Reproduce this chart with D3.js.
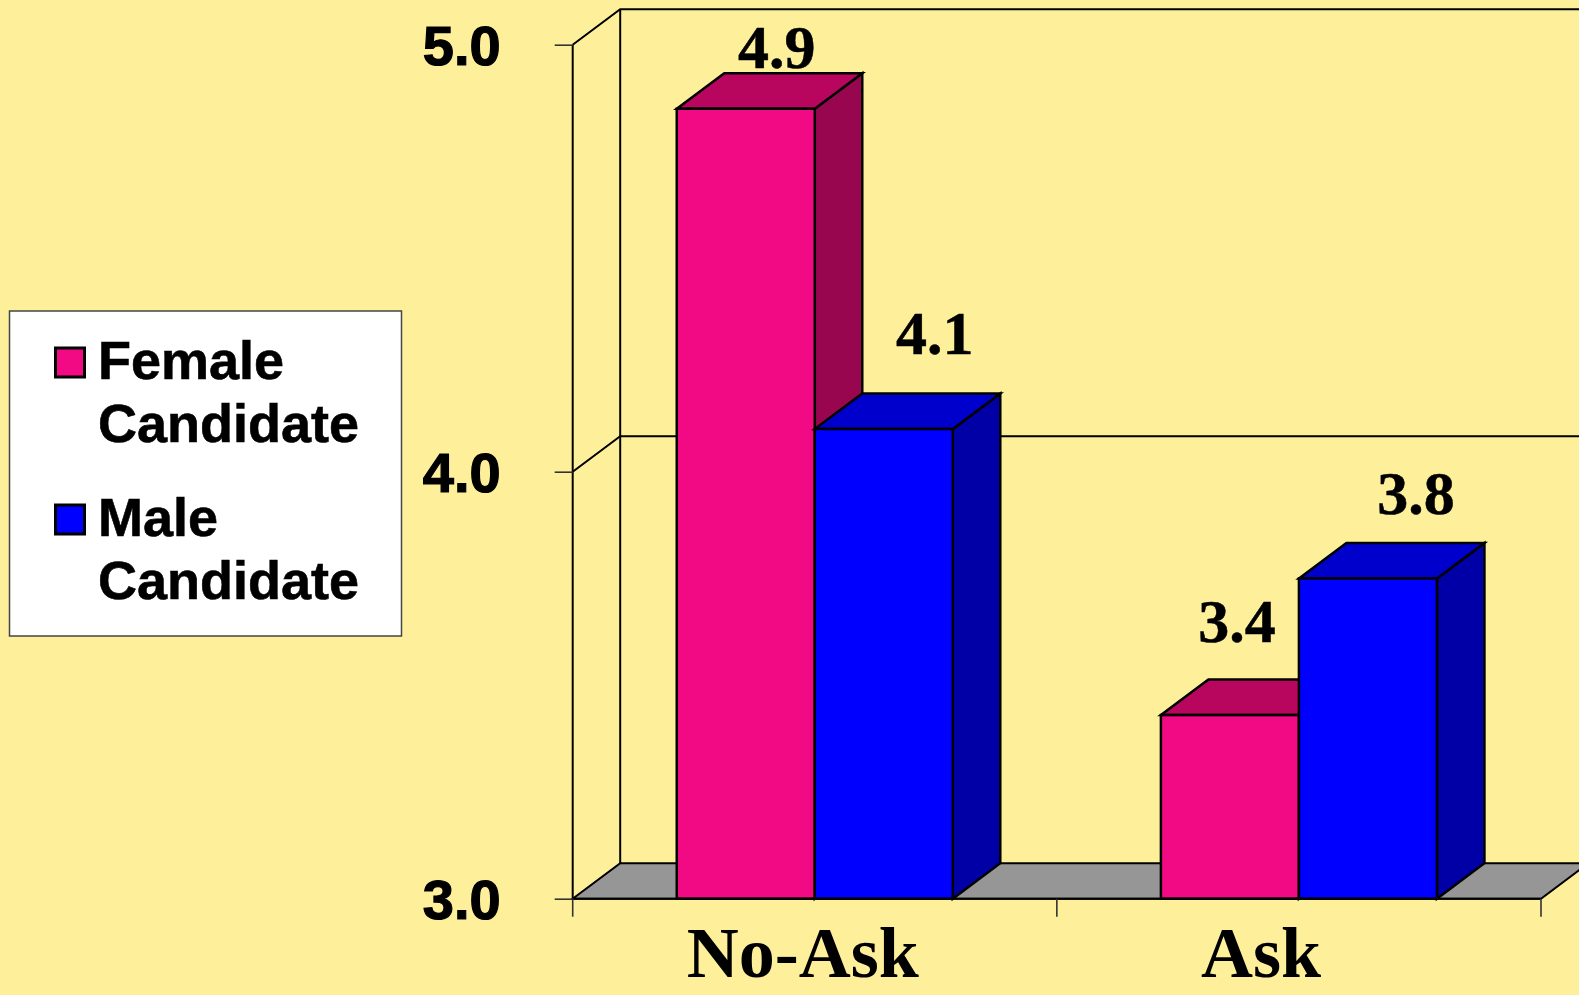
<!DOCTYPE html>
<html>
<head>
<meta charset="utf-8">
<script src="https://cdn.jsdelivr.net/npm/d3@7"></script>
<style>
  html, body { margin: 0; padding: 0; background: #FEF09B; overflow: hidden; }
  svg { display: block; }
</style>
</head>
<body>
<svg id="chart" width="1579" height="995"></svg>
<script>
// ---------------- data ----------------
const categories = ["No-Ask", "Ask"];
const seriesKeys = ["female", "male"];
const seriesNames = [["Female", "Candidate"], ["Male", "Candidate"]];
const femaleValues = [4.85, 3.43];
const maleValues = [4.10, 3.75];
const femaleLabels = ["4.9", "3.4"];
const maleLabels = ["4.1", "3.8"];
const yTicks = [3.0, 4.0, 5.0];
const yTickLabels = ["3.0", "4.0", "5.0"];

// ---------------- layout / style ----------------
const W = 1579, H = 995;
const plot = { left: 572.7, right: 1541, top: 44.7, bottom: 898.7 };
const depth = { dx: 47.5, dy: 35.5 };
const colors = {
  female: { front: "#F10A84", top: "#B8055E", side: "#98064F" },
  male:   { front: "#0000FF", top: "#0000CC", side: "#0000A6" }
};
// manual nudges of value labels (relative to bar front centre / back top)
const labelNudge = { female: [[31, -5], [7, -38]], male: [[51, -40], [48, -29]] };
const catLabelNudge = [-12, -38];

const svg = d3.select("#chart");
svg.append("rect").attr("width", W).attr("height", H).attr("fill", "#FEF09B");

const y = d3.scaleLinear().domain([3, 5]).range([plot.bottom, plot.top]);
const x0 = d3.scaleBand().domain(categories).range([plot.left, plot.right]).padding(0);
const x1 = d3.scaleBand().domain(seriesKeys).range([0, x0.bandwidth()])
  .paddingInner(0).paddingOuter(0.754);

const rows = categories.map((c, i) => ({
  cat: c,
  female: femaleValues[i], male: maleValues[i],
  femaleLabel: femaleLabels[i], maleLabel: maleLabels[i]
}));

const backRight = plot.right + depth.dx + 10;

// ---- back wall / side wall lines ----
const wall = svg.append("g").attr("fill", "none").attr("stroke", "#000").attr("stroke-width", 2);
yTicks.filter(t => t > 3).forEach(t => {
  wall.append("path").attr("d", d3.line()([
    [plot.left, y(t)], [plot.left + depth.dx, y(t) - depth.dy], [backRight, y(t) - depth.dy]
  ]));
});
wall.append("line")
  .attr("x1", plot.left + depth.dx).attr("x2", plot.left + depth.dx)
  .attr("y1", y(5) - depth.dy).attr("y2", y(3) - depth.dy);

// ---- floor ----
svg.append("path")
  .attr("d", d3.line()([
    [plot.left, y(3)], [plot.right, y(3)], [plot.right + depth.dx, y(3) - depth.dy],
    [plot.left + depth.dx, y(3) - depth.dy]
  ]) + "Z")
  .attr("fill", "#969696").attr("stroke", "#000").attr("stroke-width", 2)
  .attr("stroke-linejoin", "miter");

// ---- bars ----
const barG = svg.append("g").attr("stroke", "#000").attr("stroke-width", 2.5)
  .attr("stroke-linejoin", "miter");
rows.forEach((r, ci) => {
  seriesKeys.forEach(k => {
    const xl = x0(r.cat) + x1(k), w = x1.bandwidth();
    const yt = y(r[k]), yb = y(3);
    const dx = depth.dx, dy = depth.dy;
    const c = colors[k];
    barG.append("path").attr("fill", c.side).attr("d", d3.line()([
      [xl + w, yt], [xl + w + dx, yt - dy], [xl + w + dx, yb - dy], [xl + w, yb]
    ]) + "Z");
    barG.append("path").attr("fill", c.top).attr("d", d3.line()([
      [xl, yt], [xl + w, yt], [xl + w + dx, yt - dy], [xl + dx, yt - dy]
    ]) + "Z");
    barG.append("rect").attr("fill", c.front)
      .attr("x", xl).attr("y", yt).attr("width", w).attr("height", yb - yt);
  });
});

// ---- value labels ----
rows.forEach((r, ci) => {
  seriesKeys.forEach(k => {
    const xl = x0(r.cat) + x1(k), w = x1.bandwidth();
    const n = labelNudge[k][ci];
    svg.append("text")
      .attr("x", xl + w / 2 + n[0])
      .attr("y", y(r[k]) - depth.dy + n[1])
      .attr("text-anchor", "middle")
      .attr("font-family", "'Liberation Serif', 'Times New Roman', serif")
      .attr("font-weight", "bold").attr("font-size", 62).attr("fill", "#000")
      .attr("stroke", "#000").attr("stroke-width", 0.5)
      .text(r[k + "Label"]);
  });
});

// ---- y axis (front) ----
const yAxis = d3.axisLeft(y).tickValues(yTicks).tickSize(18).tickPadding(54)
  .tickFormat((d, i) => yTickLabels[i]);
const yg = svg.append("g").attr("transform", `translate(${plot.left},0)`).call(yAxis);
yg.select(".domain").attr("stroke", "#000").attr("stroke-width", 2)
  .attr("d", `M0,${y(5)}V${y(3)}`);
yg.selectAll(".tick line").attr("stroke", "#333").attr("stroke-width", 1.6);
yg.selectAll(".tick text")
  .attr("dy", null).attr("y", 20)
  .attr("font-family", "'Liberation Sans', Arial, sans-serif")
  .attr("font-weight", "bold").attr("font-size", 56).attr("fill", "#000")
  .attr("stroke", "#000").attr("stroke-width", 1.2);

// ---- x axis (front) ----
const xg = svg.append("g");
xg.append("line").attr("x1", plot.left).attr("x2", plot.right)
  .attr("y1", y(3)).attr("y2", y(3)).attr("stroke", "#000").attr("stroke-width", 2);
const bounds = categories.map(c => x0(c)).concat([x0.range()[1]]);
xg.selectAll("line.tk").data(bounds).join("line").attr("class", "tk")
  .attr("x1", d => d).attr("x2", d => d)
  .attr("y1", y(3)).attr("y2", y(3) + 18)
  .attr("stroke", "#333").attr("stroke-width", 1.6);
xg.selectAll("text").data(categories).join("text")
  .attr("x", (d, i) => x0(d) + x0.bandwidth() / 2 + catLabelNudge[i])
  .attr("y", 977)
  .attr("text-anchor", "middle")
  .attr("font-family", "'Liberation Serif', 'Times New Roman', serif")
  .attr("font-weight", "bold").attr("font-size", 72).attr("fill", "#000")
  .text(d => d);

// ---- legend ----
const lg = svg.append("g");
lg.append("rect").attr("x", 9.5).attr("y", 311).attr("width", 392).attr("height", 325)
  .attr("fill", "#fff").attr("stroke", "#444").attr("stroke-width", 1.5);
seriesKeys.forEach((k, i) => {
  const base = 379 + i * 157;
  lg.append("rect").attr("x", 55.5).attr("y", base - 31).attr("width", 29).attr("height", 29)
    .attr("fill", colors[k].front).attr("stroke", "#000").attr("stroke-width", 3);
  const t = lg.append("text").attr("x", 98).attr("y", base)
    .attr("font-family", "'Liberation Sans', Arial, sans-serif")
    .attr("font-weight", "bold").attr("font-size", 54).attr("fill", "#000")
    .attr("stroke", "#000").attr("stroke-width", 0.6);
  seriesNames[i].forEach((line, j) => {
    t.append("tspan").attr("x", 98).attr("y", base + j * 62.5).text(line);
  });
});
</script>
</body>
</html>
